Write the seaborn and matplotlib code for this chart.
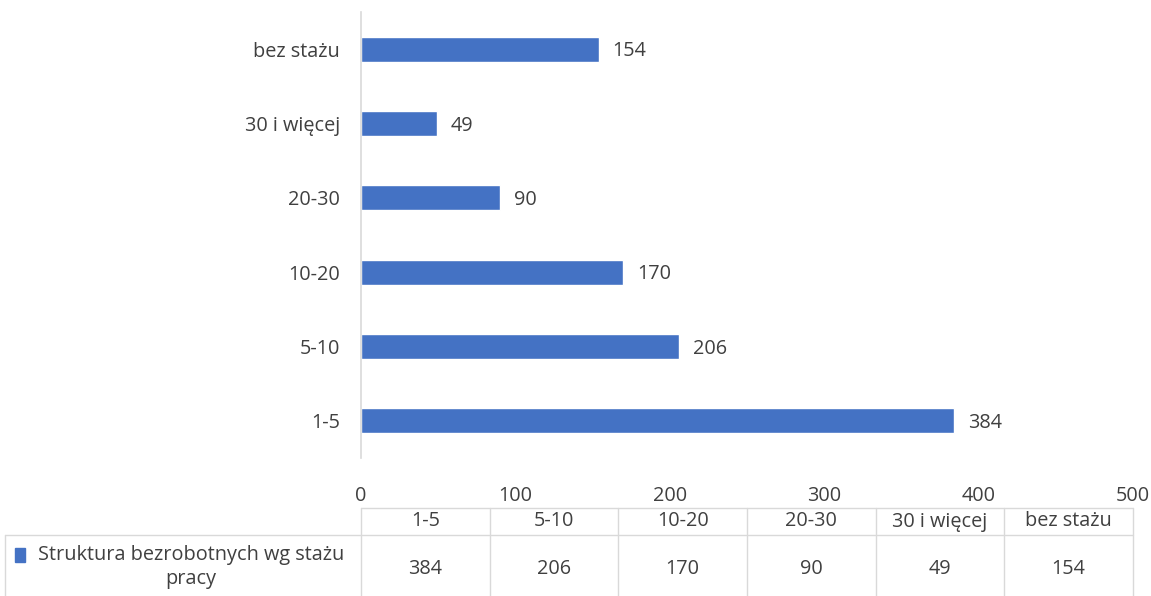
import matplotlib
matplotlib.use("Agg")
import matplotlib.pyplot as plt
import seaborn as sns
import pandas as pd
from matplotlib.patches import Rectangle

categories = ['1-5', '5-10', '10-20', '20-30', '30 i więcej', 'bez stażu']
values = [384, 206, 170, 90, 49, 154]
series_name = 'Struktura bezrobotnych wg stażu\npracy'
x_ticks = [0, 100, 200, 300, 400, 500]

blue = '#4472C4'
txt = '#404040'
grid = '#D9D9D9'
fs = 14.3

sns.set_theme(style='white')
plt.rcParams['font.family'] = ['Open Sans', 'DejaVu Sans']

df = pd.DataFrame({'staz': categories, 'n': values})
# top-to-bottom order like Excel (last category on top)
order = categories[::-1]

fig = plt.figure(figsize=(11.51, 5.96), dpi=100)
W, H = 1151, 596
left, right = 361 / W, 1133 / W
top, bottom = 1 - 12 / H, 1 - 458 / H
ax = fig.add_axes([left, bottom, right - left, top - bottom])

sns.barplot(data=df, y='staz', x='n', order=order, color=blue,
            width=0.34, saturation=1, ax=ax, orient='h')
ax.set_xlim(0, 500)
ax.set_ylim(5.5, -0.5)
ax.set_xticks(x_ticks)
ax.set_xticklabels([str(t) for t in x_ticks], fontsize=fs, color=txt)
ax.tick_params(axis='y', labelsize=fs, labelcolor=txt, length=0, pad=15)
ax.tick_params(axis='x', length=0, pad=20)
ax.set_xlabel('')
ax.set_ylabel('')
for s in ['top', 'right', 'bottom']:
    ax.spines[s].set_visible(False)
ax.spines['left'].set_color(grid)
ax.spines['left'].set_linewidth(1.2)

for i, cat in enumerate(order):
    v = values[categories.index(cat)]
    ax.text(v + 9, i + 0.03, str(v), va='center', ha='left', fontsize=fs, color=txt)

# data table under the chart
t_top = 1 - 508 / H
tab = fig.add_axes([left, 0, right - left, t_top])
tab.set_xlim(0, len(categories))
tab.set_ylim(0, 1)
tab.axis('off')
row_px = 596 - 508
mid = (596 - 535) / row_px
col_w = (1133 - 361) / len(categories)
x_far = (5 - 361) / col_w

tab.plot([0, len(categories)], [1, 1], color=grid, lw=1, clip_on=False)
tab.plot([x_far, len(categories)], [mid, mid], color=grid, lw=1, clip_on=False)
tab.plot([x_far, x_far], [0, mid], color=grid, lw=1, clip_on=False)
for k in range(len(categories) + 1):
    tab.plot([k, k], [0, 1], color=grid, lw=1, clip_on=False)

for k, (cat, v) in enumerate(zip(categories, values)):
    tab.text(k + 0.5, (1 + mid) / 2, cat, ha='center', va='center',
             fontsize=fs, color=txt)
    tab.text(k + 0.5, (596 - 569) / row_px, str(v), ha='center', va='center',
             fontsize=fs, color=txt)

tab.text((191 - 361) / col_w, (596 - 567) / row_px, series_name, ha='center',
         va='center', fontsize=fs, color=txt, linespacing=1.25, clip_on=False)
sq = Rectangle((15 / W, 1 - 562 / H), 10 / W, 14 / H, transform=fig.transFigure,
               color=blue, clip_on=False)
fig.add_artist(sq)

fig.savefig('out.png', dpi=100)
